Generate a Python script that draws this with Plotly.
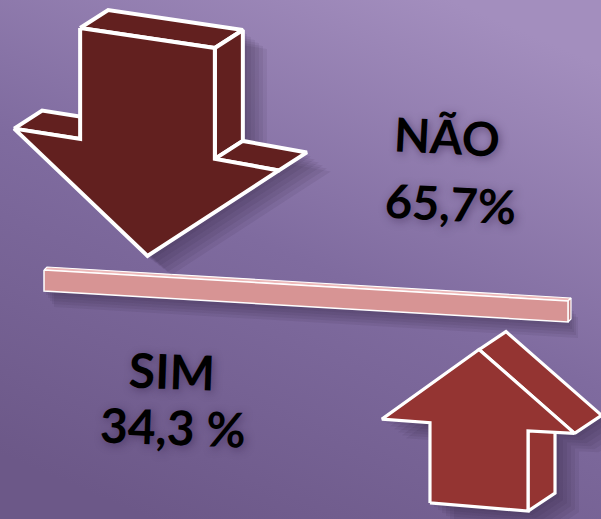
import base64
import math

import plotly.graph_objects as go

W, H = 601, 519

labels = ["NÃO", "SIM"]
values = [65.7, 34.3]
pct_gap = ["", " "]

# block arrow glyph, shaft half-width = 1, b runs from tail to tip
ARROW = [(-1.0, 0.0), (1.0, 0.0), (1.0, 1.63), (1.95, 1.66),
         (0.0, 3.2), (-1.98, 1.62), (-1.0, 1.63)]
SIZE_K = 8.4  # shaft half-width in px per sqrt(percent) -> area ~ value

arrow_style = [
    dict(origin=(147.5, 38), tilt=8.4, direction=1, depth=(28, -18),
         fill="#62201f", edge=4.0),
    dict(origin=(479, 507), tilt=4.8, direction=-1, depth=(27, -18),
         fill="#943432", edge=3.2),
]
text_style = [
    dict(label_xy=(447, 136), value_xy=(450, 203), size=47, angle=3),
    dict(label_xy=(172, 370), value_xy=(173, 426), size=48, angle=2),
]
divider = dict(start=(44, 270), end=(568, 301), thick=21, depth=(3, -3))
SHADOW = "rgba(35,20,55,0.08)"


def place(style, value):
    s = SIZE_K * math.sqrt(value)
    t = math.radians(style["tilt"])
    ox, oy = style["origin"]
    return [(ox + s * a * math.cos(t),
             oy + s * a * math.sin(t) + s * b * style["direction"])
            for a, b in ARROW]


def signed_area(pts):
    return 0.5 * sum(pts[i][0] * pts[(i + 1) % len(pts)][1]
                     - pts[(i + 1) % len(pts)][0] * pts[i][1]
                     for i in range(len(pts)))


def side_faces(front, depth):
    """Extruded faces that look towards the viewer for a given depth vector."""
    area = signed_area(front)
    dx, dy = depth
    dl = math.hypot(dx, dy)
    faces = []
    for i in range(len(front)):
        p, q = front[i], front[(i + 1) % len(front)]
        ex, ey = q[0] - p[0], q[1] - p[1]
        nx, ny = (ey, -ex) if area > 0 else (-ey, ex)
        if (nx * dx + ny * dy) / (math.hypot(nx, ny) * dl) > 0.15:
            faces.append([p, q, (q[0] + dx, q[1] + dy), (p[0] + dx, p[1] + dy)])
    return faces


def oriented(pts):
    return pts if signed_area(pts) > 0 else pts[::-1]


def poly(polys, fill, line_color="white", width=0.0):
    xs, ys = [], []
    for pts in polys:
        xs += [p[0] for p in pts] + [pts[0][0], None]
        ys += [p[1] for p in pts] + [pts[0][1], None]
    return go.Scatter(x=xs[:-1], y=ys[:-1], mode="lines", fill="toself",
                      fillcolor=fill, line=dict(color=line_color, width=width),
                      hoverinfo="skip", showlegend=False)


bg_svg = (
    f'<svg xmlns="http://www.w3.org/2000/svg" width="{W}" height="{H}">'
    '<defs><linearGradient id="g" x1="0.25" y1="1" x2="0.75" y2="0">'
    '<stop offset="0" stop-color="#6c5888"/>'
    '<stop offset="0.5" stop-color="#7f6b9f"/>'
    '<stop offset="1" stop-color="#a38ebe"/></linearGradient></defs>'
    '<rect width="100%" height="100%" fill="url(#g)"/></svg>'
)

fig = go.Figure()

# divider bar
(x0, y0), (x1, y1) = divider["start"], divider["end"]
th = divider["thick"]
ddx, ddy = divider["depth"]
bar_front = [(x0, y0), (x1, y1), (x1, y1 + th), (x0, y0 + th)]
bar_top = [(x0, y0), (x0 + ddx, y0 + ddy), (x1 + ddx, y1 + ddy), (x1, y1)]
bar_end = [(x1, y1), (x1 + ddx, y1 + ddy), (x1 + ddx, y1 + ddy + th), (x1, y1 + th)]
for ox, oy in [(2, 4), (4, 7), (6, 10), (8, 13), (10, 16)]:
    fig.add_trace(poly([[(x + ox, y + oy) for x, y in bar_front]], SHADOW))
fig.add_trace(poly([bar_top], "#ecb8b8", "white", 1.2))
fig.add_trace(poly([bar_end], "#c07f80", "white", 1.2))
fig.add_trace(poly([bar_front], "#d79494", "white", 1.5))

# arrows, area proportional to the share
for val, st in zip(values, arrow_style):
    front = place(st, val)
    sides = side_faces(front, st["depth"])
    parts = [oriented(front)] + [oriented(f) for f in sides]
    for ox, oy in [(4, 4), (8, 7), (12, 10), (16, 13), (20, 16), (24, 19)]:
        fig.add_trace(poly([[(x + ox, y + oy) for x, y in p] for p in parts], SHADOW))
    for f in sides:
        fig.add_trace(poly([f], st["fill"], "white", st["edge"]))
    fig.add_trace(poly([front], st["fill"], "white", st["edge"]))

# labels
shadow_txt = "2px 2px 8px rgba(45,25,65,0.5)"
for lab, val, gap, ts in zip(labels, values, pct_gap, text_style):
    value_txt = f"{val:.1f}".replace(".", ",") + gap + "%"
    for txt, (tx, ty) in [(lab, ts["label_xy"]), (value_txt, ts["value_xy"])]:
        fig.add_annotation(
            x=tx, y=ty, xref="x", yref="y", text=txt, showarrow=False,
            textangle=ts["angle"],
            font=dict(family="Lato", size=ts["size"], color="#000000",
                      weight="bold", shadow=shadow_txt),
        )

fig.add_layout_image(
    source="data:image/svg+xml;base64," + base64.b64encode(bg_svg.encode()).decode(),
    xref="paper", yref="paper", x=0, y=1, sizex=1, sizey=1,
    sizing="stretch", layer="below",
)
fig.update_layout(
    width=W, height=H,
    margin=dict(l=0, r=0, t=0, b=0),
    paper_bgcolor="#7a6697",
    plot_bgcolor="rgba(0,0,0,0)",
    xaxis=dict(range=[0, W], visible=False, fixedrange=True),
    yaxis=dict(range=[H, 0], visible=False, fixedrange=True),
)
fig.write_html("out.html", config={"displayModeBar": False},
               post_script="document.body.style.margin='0';")
